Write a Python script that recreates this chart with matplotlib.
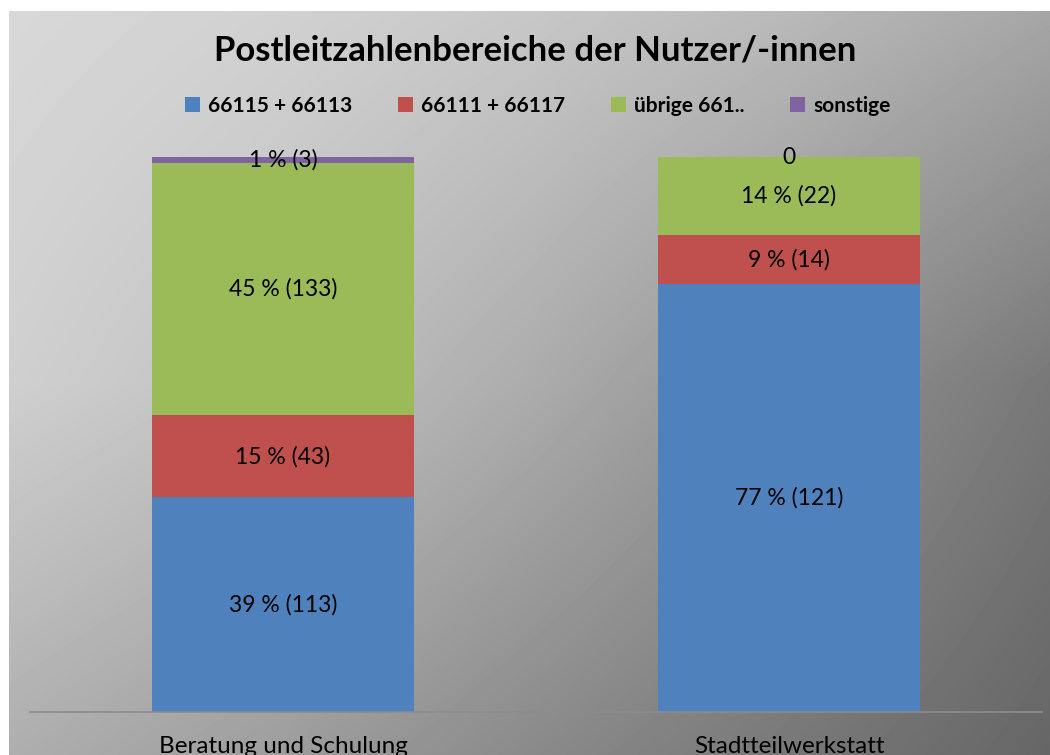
import matplotlib
matplotlib.use("Agg")
import matplotlib.pyplot as plt
from matplotlib.patches import Patch
import numpy as np

plt.rcParams["font.family"] = ["Lato", "DejaVu Sans"]

# data
categories = ["Beratung und Schulung", "Stadtteilwerkstatt"]
series_names = ["66115 + 66113", "66111 + 66117", "übrige 661..", "sonstige"]
counts = [
    [113, 121],   # 66115 + 66113
    [43, 14],     # 66111 + 66117
    [133, 22],    # übrige 661..
    [3, 0],       # sonstige
]
percent_labels = [
    [39, 77],
    [15, 9],
    [45, 14],
    [1, 0],
]
colors = ["#4F81BD", "#C0504D", "#9BBB59", "#8064A2"]

W, H = 1050, 755
fig = plt.figure(figsize=(W / 100, H / 100), dpi=100, facecolor="white")

# gradient background (light top-left -> dark bottom-right)
gx = [0, 0.25, 0.5, 0.75, 1.0]
gy = [0, 0.5, 1.0]
grid = np.array([
    [216, 209, 199, 185, 166],
    [207, 193, 172, 146, 120],
    [174, 158, 138, 120, 102],
], dtype=float)
bw, bh = W - 9, H - 11
xs = np.linspace(0, 1, bw)
ys = np.linspace(0, 1, bh)
rows = np.array([np.interp(xs, gx, r) for r in grid])
img = np.array([np.interp(ys, gy, rows[:, i]) for i in range(bw)]).T
bg = fig.add_axes([9 / W, 0, bw / W, bh / H], zorder=0)
bg.imshow(img, cmap="gray", vmin=0, vmax=255, aspect="auto", interpolation="bilinear")
bg.axis("off")

ax = fig.add_axes([30 / W, 43 / H, 1012 / W, 555 / H], zorder=1)
ax.patch.set_alpha(0)

x = np.arange(len(categories))
totals = np.sum(counts, axis=0)
bottom = np.zeros(len(categories))
for name, vals, pcts, c in zip(series_names, counts, percent_labels, colors):
    share = np.array(vals) / totals
    ax.bar(x, share, width=0.516, bottom=bottom, color=c, label=name, zorder=2)
    for xi, s, b, v, p in zip(x, share, bottom, vals, pcts):
        txt = f"{p} % ({v})" if v > 0 else "0"
        ax.text(xi, b + s / 2, txt, ha="center", va="center", fontsize=16.5,
                color="black", zorder=3)
    bottom += share

ax.set_xlim(-0.5, 1.5)
ax.set_ylim(0, 1)
ax.set_yticks([])
ax.set_xticks(x)
ax.set_xticklabels(categories, fontsize=17.5)
ax.tick_params(axis="x", length=0, pad=17)
for sp in ["top", "right", "left"]:
    ax.spines[sp].set_visible(False)
ax.spines["bottom"].set_color("#8c8c8c")
ax.spines["bottom"].set_linewidth(1.2)

fig.text(535 / W, 1 - 50 / H, "Postleitzahlenbereiche der Nutzer/-innen",
         ha="center", va="center", fontsize=25, fontweight="bold")

handles = [Patch(facecolor=c, label=n) for n, c in zip(series_names, colors)]
fig.legend(handles=handles, loc="center", bbox_to_anchor=(538 / W, 1 - 106 / H),
           ncol=4, frameon=False, prop={"weight": "bold", "size": 15},
           handlelength=0.7, handleheight=0.7, handletextpad=0.4, columnspacing=2.2)

fig.savefig("out.png", dpi=100)
